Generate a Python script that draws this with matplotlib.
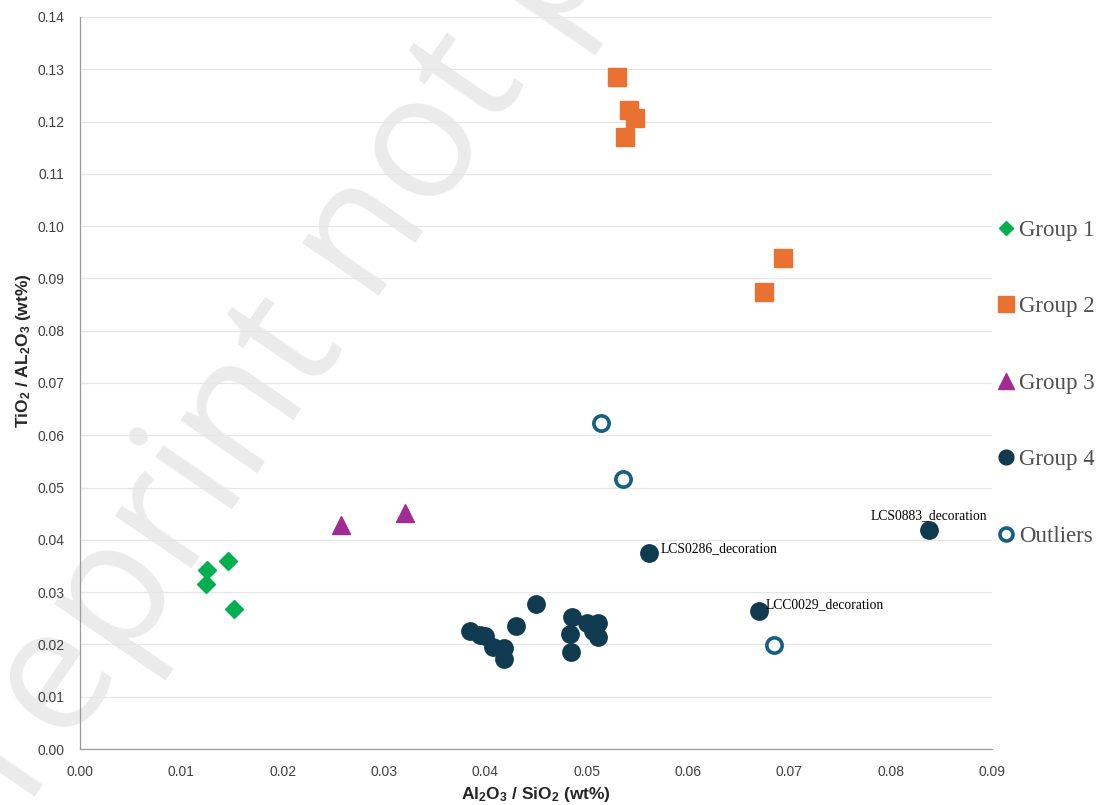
import matplotlib.pyplot as plt
import matplotlib as mpl

mpl.rcParams['font.family'] = ['Liberation Sans', 'DejaVu Sans']
mpl.rcParams['mathtext.default'] = 'regular'

# Group data (x = Al2O3/SiO2, y = TiO2/Al2O3)
g1_x = [0.0146, 0.0125, 0.0124, 0.0152]
g1_y = [0.0360, 0.0342, 0.0315, 0.0268]

g2_x = [0.0530, 0.0542, 0.0548, 0.0538, 0.0694, 0.0675]
g2_y = [0.1285, 0.1222, 0.1207, 0.1171, 0.0940, 0.0874]

g3_x = [0.0258, 0.0321]
g3_y = [0.0429, 0.0452]

g4_x = [0.0385, 0.0395, 0.0400, 0.0408, 0.0418, 0.0418, 0.0430, 0.0450, 0.0486,
        0.0484, 0.0485, 0.0500, 0.0511, 0.0506, 0.0511, 0.0562, 0.0670, 0.0838]
g4_y = [0.0226, 0.0218, 0.0216, 0.0195, 0.0194, 0.0172, 0.0236, 0.0277, 0.0252,
        0.0220, 0.0186, 0.0241, 0.0241, 0.0225, 0.0215, 0.0375, 0.0264, 0.0418]

out_x = [0.0514, 0.0536, 0.0685]
out_y = [0.0624, 0.0517, 0.0198]

# labelled samples (indices into group 4)
label_names = ['LCS0286_decoration', 'LCC0029_decoration', 'LCS0883_decoration']
label_idx = [15, 16, 17]

x_ticks = [0.00, 0.01, 0.02, 0.03, 0.04, 0.05, 0.06, 0.07, 0.08, 0.09]
y_ticks = [0.00, 0.01, 0.02, 0.03, 0.04, 0.05, 0.06, 0.07, 0.08, 0.09, 0.10,
           0.11, 0.12, 0.13, 0.14]

fig = plt.figure(figsize=(11.01, 8.05), dpi=100)
ax = fig.add_axes([80 / 1101, 56 / 805, 912 / 1101, 732 / 805])

# watermark (behind everything)
fig.text(-0.03, -0.112, 'Preprint not peer reviewed', fontsize=126, color='#ebebeb',
         family=['Open Sans', 'DejaVu Sans'],
         rotation=55.5, rotation_mode='anchor', ha='left', va='baseline', zorder=-5)
ax.set_facecolor('none')

ax.plot(g1_x, g1_y, ls='none', marker='D', ms=8.7, color='#00B050', label='Group 1', zorder=3)
ax.plot(g2_x, g2_y, ls='none', marker='s', ms=13.5, color='#E97132', label='Group 2', zorder=3)
ax.plot(g3_x, g3_y, ls='none', marker='^', ms=13, color='#A02B93', label='Group 3', zorder=3)
ax.plot(g4_x, g4_y, ls='none', marker='o', ms=12.5, color='#0F3A4F', label='Group 4', zorder=3)
ax.plot(out_x, out_y, ls='none', marker='o', ms=11, mfc='white', mec='#156082', mew=2.6,
        label='Outliers', zorder=3)

offsets = [(8, 3), (5, 4.5), (0, 6)]
aligns = [('left', 'center'), ('left', 'center'), ('center', 'bottom')]
for name, i, off, (ha, va) in zip(label_names, label_idx, offsets, aligns):
    ax.annotate(name, (g4_x[i], g4_y[i]), xytext=off, textcoords='offset points',
                ha=ha, va=va, fontsize=9.8, family=['Liberation Serif'], color='black')

ax.set_xlim(0, 0.09)
ax.set_ylim(0, 0.14)
ax.set_xticks(x_ticks)
ax.set_yticks(y_ticks)
ax.set_xticklabels([f'{v:.2f}' for v in x_ticks])
ax.set_yticklabels([f'{v:.2f}' for v in y_ticks])
ax.tick_params(axis='both', length=0, labelsize=10, colors='#404040')
ax.tick_params(axis='y', pad=11)
ax.tick_params(axis='x', pad=11.5)

ax.grid(axis='y', color='#e6e6e6', lw=0.9, zorder=0)
ax.set_axisbelow(True)
for s in ['top', 'right']:
    ax.spines[s].set_visible(False)
for s in ['left', 'bottom']:
    ax.spines[s].set_color('#9a9a9a')
    ax.spines[s].set_linewidth(0.9)

ax.set_xlabel('Al$_2$O$_3$ / SiO$_2$ (wt%)', fontsize=12.5, fontweight='bold', color='#262626',
              labelpad=4)
ax.set_ylabel('TiO$_2$ / AL$_2$O$_3$ (wt%)', fontsize=12.5, fontweight='bold', color='#262626')
ax.yaxis.set_label_coords(-0.052, 0.544)

leg = ax.legend(loc='center left', bbox_to_anchor=(1.0045, 0.4995), frameon=False,
                borderaxespad=0, borderpad=0, handlelength=0.9, handletextpad=0.1,
                labelspacing=2.42, markerscale=0.85,
                prop={'family': 'Liberation Serif', 'size': 16.5})
for t in leg.get_texts():
    t.set_color('#505050')

plt.savefig('out.png', dpi=100)
